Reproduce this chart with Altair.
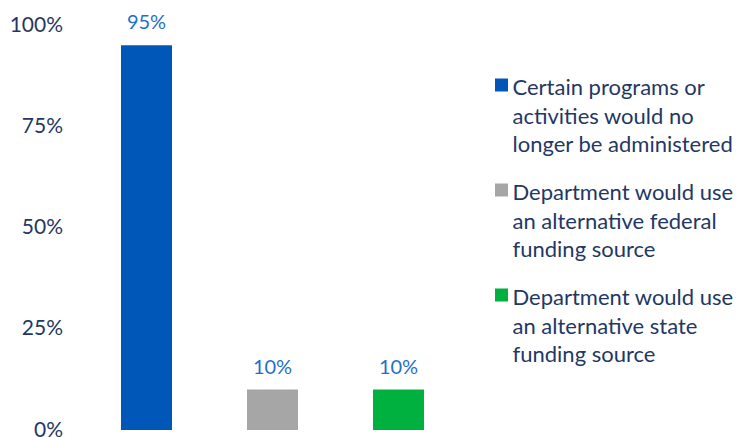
import altair as alt
import pandas as pd

categories = [
    "Certain programs or|activities would no|longer be administered",
    "Department would use|an alternative federal|funding source",
    "Department would use|an alternative state|funding source",
]
values = [0.95, 0.10, 0.10]
labels = ["95%", "10%", "10%"]
colors = ["#0057B8", "#A6A6A6", "#00B140"]

df = pd.DataFrame({"cat": categories, "val": values, "lab": labels})

FONT = "Lato"
NAVY = "#1F3864"

base = alt.Chart(df).encode(
    x=alt.X("cat:N", sort=categories, axis=None,
            scale=alt.Scale(paddingInner=0.595, paddingOuter=0.2975)),
)

bars = base.mark_bar().encode(
    y=alt.Y("val:Q", scale=alt.Scale(domain=[0, 1]),
            axis=alt.Axis(values=[0, 0.25, 0.5, 0.75, 1.0], format="%", title=None,
                          domain=False, ticks=False, grid=False,
                          labelPadding=21, labelFontSize=21, labelFont=FONT,
                          labelColor=NAVY)),
    color=alt.Color("cat:N", sort=categories,
                    scale=alt.Scale(domain=categories, range=colors),
                    legend=alt.Legend(title=None, orient="none", legendX=407, legendY=49,
                                      symbolType="square", symbolSize=169,
                                      symbolStrokeWidth=0, symbolOpacity=1,
                                      labelFont=FONT, labelFontSize=22, labelColor=NAVY,
                                      labelLimit=400, labelOffset=0, rowPadding=23,
                                      labelExpr="split(datum.label, '|')",
                                      labelBaseline="top", padding=0)),
)

text = base.mark_text(baseline="bottom", dy=-12, font=FONT, fontSize=20,
                      color="#1F6FCB").encode(
    y=alt.Y("val:Q"),
    text="lab:N",
)

chart = (bars + text).properties(
    width=378, height=405,
    padding={"left": 75.5, "top": 17, "right": 271.5, "bottom": 10},
    autosize=alt.AutoSizeParams(type="none"),
).configure_view(stroke=None)

patch = [
    {"op": "add", "path": "/legends/0/encode/labels/update/lineHeight",
     "value": {"value": 28.5}},
    {"op": "add", "path": "/legends/0/encode/labels/update/dy",
     "value": {"value": -7}},
]

chart.save("out.html", embed_options={"renderer": "svg", "actions": False, "patch": patch})
